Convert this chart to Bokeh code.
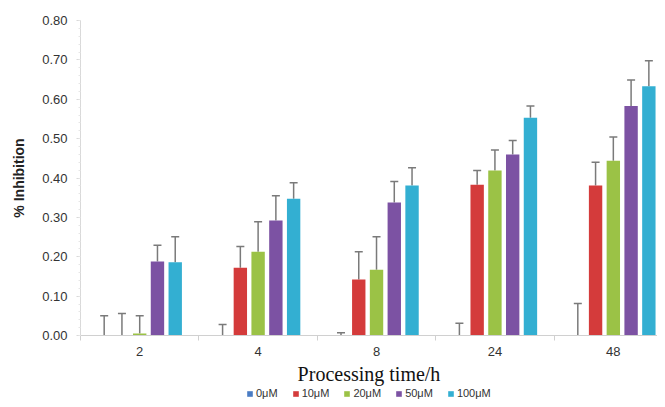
from bokeh.plotting import figure
from bokeh.layouts import column
from bokeh.models import (ColumnDataSource, Range1d, FixedTicker, Whisker, TeeHead,
                          Legend, LegendItem, NumeralTickFormatter)
from bokeh.transform import dodge
from bokeh.embed import file_html
from bokeh.resources import INLINE

# ---- data ----
times = ["2", "4", "8", "24", "48"]
concs = ["0μM", "10μM", "20μM", "50μM", "100μM"]
m0 = [0.0, 0.0, 0.0, 0.0, 0.0]
m10 = [0.0, 0.172, 0.142, 0.383, 0.381]
m20 = [0.005, 0.213, 0.167, 0.419, 0.444]
m50 = [0.188, 0.292, 0.338, 0.460, 0.583]
m100 = [0.186, 0.347, 0.381, 0.553, 0.633]
e0 = [0.050, 0.028, 0.007, 0.031, 0.081]
e10 = [0.056, 0.054, 0.071, 0.036, 0.059]
e20 = [0.045, 0.076, 0.084, 0.052, 0.060]
e50 = [0.041, 0.063, 0.053, 0.035, 0.066]
e100 = [0.065, 0.041, 0.045, 0.030, 0.065]
colors = ["#4a7cc4", "#d43b3b", "#9bc246", "#7c52a3", "#33afd2"]
y_ticks = [0.0, 0.1, 0.2, 0.3, 0.4, 0.5, 0.6, 0.7, 0.8]

means = [m0, m10, m20, m50, m100]
errs = [e0, e10, e20, e50, e100]

xc = [i + 0.5 for i in range(len(times))]
bounds = [float(i) for i in range(len(times) + 1)]

p = figure(width=657, height=387, output_backend="svg", toolbar_location=None,
           x_range=Range1d(0, 4.873), y_range=Range1d(0, 0.8),
           min_border_left=80, min_border_right=0, min_border_top=20,
           min_border_bottom=51)
p.outline_line_color = None
p.xgrid.visible = False
p.ygrid.visible = False

# legend strip (separate figure below the chart; its bars lie outside its range)
lg = figure(width=657, height=12, output_backend="svg", toolbar_location=None,
            x_range=Range1d(0, 4.873), y_range=Range1d(2, 3),
            x_axis_location=None, y_axis_location=None,
            min_border_left=0, min_border_right=0, min_border_top=0,
            min_border_bottom=0)
lg.outline_line_color = None
lg.xgrid.visible = False
lg.ygrid.visible = False

pitch = 0.15
bw = 0.113
items = []
for k, (c, m, e, col) in enumerate(zip(concs, means, errs, colors)):
    off = (k - 2) * pitch
    src = ColumnDataSource(dict(x=xc, m=m, u=[a + b for a, b in zip(m, e)]))
    p.vbar(x=dodge("x", off), top="m", width=bw, source=src,
           fill_color=col, line_color=None)
    w = Whisker(base=dodge("x", off), upper="u", lower="m", source=src,
                line_color="#7a7a7a", line_width=1.5,
                upper_head=TeeHead(size=8, line_color="#7a7a7a", line_width=1.5),
                lower_head=None)
    p.add_layout(w)
    lr = lg.vbar(x=dodge("x", off), top="m", width=bw, source=src,
                 fill_color=col, line_color=None)
    items.append(LegendItem(label=c, renderers=[lr]))

# x axis
xa = p.xaxis[0]
xa.ticker = FixedTicker(ticks=xc, minor_ticks=bounds)
xa.major_label_overrides = {x: t for x, t in zip(xc, times)}
xa.major_tick_out = 0
xa.major_tick_in = 0
xa.minor_tick_out = 5
xa.minor_tick_in = 0
xa.minor_tick_line_color = "#d0d0d0"
xa.axis_line_color = "#d0d0d0"
xa.major_label_text_font = "Liberation Sans"
xa.major_label_text_font_size = "13px"
xa.major_label_text_color = "#333333"
xa.major_label_standoff = 6
xa.axis_label = "Processing time/h"
xa.axis_label_text_font = "Liberation Serif"
xa.axis_label_text_font_style = "normal"
xa.axis_label_text_font_size = "20px"
xa.axis_label_text_color = "#111111"
xa.axis_label_standoff = 4

# y axis
ya = p.yaxis[0]
ya.ticker = FixedTicker(ticks=y_ticks, minor_ticks=[i * 0.02 for i in range(41)])
ya.formatter = NumeralTickFormatter(format="0.00")
ya.axis_line_color = "#d9d9d9"
ya.major_tick_line_color = "#d9d9d9"
ya.major_tick_out = 4
ya.major_tick_in = 0
ya.minor_tick_line_color = "#e6e6e6"
ya.minor_tick_out = 2
ya.minor_tick_in = 0
ya.major_label_text_font = "Liberation Sans"
ya.major_label_text_font_size = "13px"
ya.major_label_text_color = "#333333"
ya.major_label_standoff = 9
ya.axis_label = "% Inhibition"
ya.axis_label_text_font = "Liberation Sans"
ya.axis_label_text_font_style = "bold"
ya.axis_label_text_font_size = "14px"
ya.axis_label_text_color = "#222222"
ya.axis_label_standoff = 12

legend = Legend(items=items, orientation="horizontal", location=(166, 0),
                border_line_color=None, background_fill_alpha=0,
                padding=0, margin=0, spacing=14, label_standoff=3,
                glyph_width=7, glyph_height=7,
                label_text_font="Liberation Sans", label_text_font_size="11px",
                label_text_color="#333333", label_height=11)
lg.add_layout(legend, "center")

layout = column(p, lg, spacing=0)
open("out.html", "w").write(file_html(layout, INLINE))
